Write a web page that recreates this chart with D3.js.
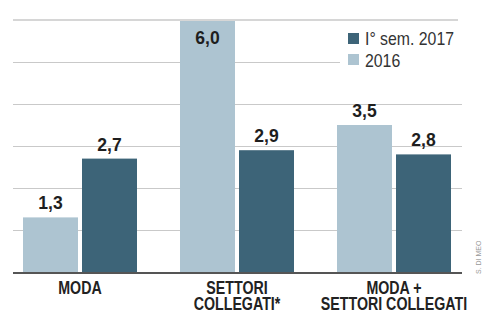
<!DOCTYPE html>
<html><head><meta charset="utf-8">
<script src="https://cdn.jsdelivr.net/npm/d3@7"></script>
<style>
html,body{margin:0;padding:0;background:#fff;}
svg{display:block;}
</style></head>
<body>
<svg id="c" width="487" height="311"></svg>
<script>
const categories = [["MODA"], ["SETTORI", "COLLEGATI*"], ["MODA +", "SETTORI COLLEGATI"]];
const seriesNames = ["2016", "I° sem. 2017"];
const values2016 = [1.3, 6.0, 3.5];
const values2017 = [2.7, 2.9, 2.8];
const yTicks = [0, 1, 2, 3, 4, 5, 6];
const legendOrder = ["I° sem. 2017", "2016"];
const colors = {"2016": "#adc4d1", "I° sem. 2017": "#3d6478"};
const credit = "S. DI MEO";

const svg = d3.select("#c");
const catKeys = categories.map(c => c.join(" "));
const y = d3.scaleLinear().domain([0, 6]).range([272, 20]);
const x0 = d3.scaleBand().domain(catKeys).range([1.5, 472.5]).padding(0);
const x1 = d3.scaleBand().domain(seriesNames).range([0, 114]).paddingInner(0.0678);

const data = catKeys.map((k, i) => ({key: k, lines: categories[i],
  vals: [{s: "2016", v: values2016[i]}, {s: "I° sem. 2017", v: values2017[i]}]}));

// gridlines
const yAxis = d3.axisLeft(y).tickValues(yTicks.slice(1, -1)).tickSize(-449).tickFormat("");
const ga = svg.append("g").attr("transform", "translate(13,0)").call(yAxis);
ga.select(".domain").remove();
ga.selectAll(".tick line").attr("stroke", "#c9c9c9").attr("stroke-width", 1);

// bars
const fmt = v => d3.format(".1f")(v).replace(".", ",");
const groups = svg.selectAll(".grp").data(data).join("g")
  .attr("transform", d => `translate(${x0(d.key) + x0.bandwidth()/2 - 57},0)`);
groups.selectAll("rect").data(d => d.vals).join("rect")
  .attr("x", d => x1(d.s)).attr("width", x1.bandwidth())
  .attr("y", d => y(d.v)).attr("height", d => y(0) - y(d.v))
  .attr("fill", d => colors[d.s]);

// top line
svg.append("line").attr("x1", 13).attr("x2", 458).attr("y1", y(6)).attr("y2", y(6))
  .attr("stroke", "#d6d6d6").attr("stroke-width", 2);

groups.selectAll("g.val").data(d => d.vals).join("g").attr("class", "val")
  .attr("transform", d => `translate(${x1(d.s) + x1.bandwidth()/2},${y(d.v) - 8 < 30 ? y(d.v) + 24 : y(d.v) - 8}) scale(0.95,1)`)
  .append("text")
  .attr("text-anchor", "middle")
  .attr("font-family", "Liberation Sans, Arial, sans-serif")
  .attr("font-weight", "bold").attr("font-size", 18.5).attr("fill", "#1e1e1e")
  .text(d => fmt(d.v));

// baseline
svg.append("line").attr("x1", 13).attr("x2", 462).attr("y1", y(0) + 1).attr("y2", y(0) + 1)
  .attr("stroke", "#555").attr("stroke-width", 2);

// category labels (condensed look via horizontal scale)
const cg = svg.selectAll(".cat").data(data).join("g")
  .attr("transform", d => `translate(${x0(d.key) + x0.bandwidth()/2},294) scale(0.79,1)`);
const cl = cg.append("text")
  .attr("text-anchor", "middle")
  .attr("font-family", "Liberation Sans, Arial, sans-serif")
  .attr("font-weight", "bold").attr("font-size", 18).attr("fill", "#222");
cl.selectAll("tspan").data(d => d.lines).join("tspan")
  .attr("x", 0).attr("dy", (d, i) => i === 0 ? 0 : 16).text(d => d);

// legend
const lg = svg.append("g");
lg.append("rect").attr("x", 340).attr("y", 22).attr("width", 130).attr("height", 50).attr("fill", "#fff");
legendOrder.forEach((s, i) => {
  lg.append("rect").attr("x", 348).attr("y", 33 + i*21).attr("width", 11).attr("height", 11).attr("fill", colors[s]);
  lg.append("g").attr("transform", `translate(365,${45 + i*22}) scale(0.88,1)`)
    .append("text")
    .attr("font-family", "Liberation Sans, Arial, sans-serif")
    .attr("font-size", 18).attr("fill", "#333").text(s);
});

// credit
svg.append("text").attr("transform", "translate(481,274) rotate(-90)")
  .attr("font-family", "Liberation Sans, Arial, sans-serif")
  .attr("font-size", 7).attr("fill", "#999").text(credit);
</script>
</body></html>
